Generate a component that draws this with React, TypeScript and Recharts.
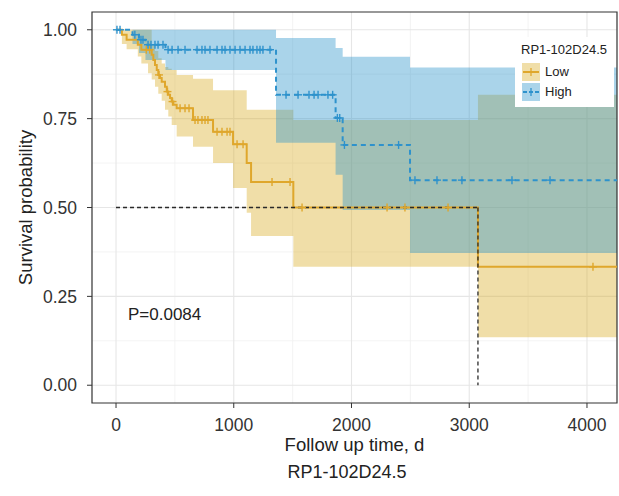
import React from "react";
import {
  ComposedChart,
  XAxis,
  YAxis,
  CartesianGrid,
  Line,
  Area,
  Scatter,
  ReferenceLine,
  ReferenceArea,
} from "recharts";

// ---------- data ----------
const xTicks = [0, 1000, 2000, 3000, 4000];
const xMinor = [500, 1500, 2500, 3500];
const yTicks = [0, 0.25, 0.5, 0.75, 1];
const yMinor = [0.125, 0.375, 0.625, 0.875];

// Kaplan-Meier steps: [time, survival]
const lowSteps: [number, number][] = [
  [0, 1], [50, 0.986], [90, 0.972], [185, 0.958], [215, 0.944], [303, 0.93],
  [317, 0.915], [331, 0.901], [346, 0.887], [359, 0.873], [374, 0.864],
  [388, 0.854], [416, 0.84], [431, 0.826], [444, 0.817], [459, 0.808],
  [473, 0.798], [487, 0.789], [515, 0.779], [654, 0.746], [824, 0.713],
  [994, 0.678], [1110, 0.625], [1147, 0.572], [1506, 0.5], [3074, 0.333],
  [4400, 0.333],
];
const highSteps: [number, number][] = [
  [0, 1], [140, 0.986], [195, 0.972], [250, 0.958], [420, 0.944],
  [1359, 0.817], [1865, 0.752], [1925, 0.676], [2497, 0.577], [4400, 0.577],
];

// confidence bands: [time, lower, upper]
const lowBand: [number, number, number][] = [
  [0, 1, 1], [50, 0.96, 1], [90, 0.945, 1], [185, 0.925, 1], [215, 0.905, 1],
  [272, 0.878, 1], [303, 0.86, 0.96], [331, 0.84, 0.94], [359, 0.82, 0.92],
  [388, 0.8, 0.905], [416, 0.775, 0.895], [444, 0.756, 0.89],
  [473, 0.732, 0.887], [515, 0.7, 0.873], [654, 0.671, 0.862],
  [824, 0.625, 0.83], [994, 0.555, 0.83], [1110, 0.485, 0.775],
  [1147, 0.42, 0.775], [1506, 0.333, 0.746], [3074, 0.135, 0.817],
  [4400, 0.135, 0.817],
];
const highBand: [number, number, number][] = [
  [0, 1, 1], [140, 0.96, 1], [195, 0.935, 1], [250, 0.915, 1],
  [420, 0.887, 1], [1359, 0.682, 0.977], [1865, 0.592, 0.949],
  [1925, 0.493, 0.924], [2497, 0.372, 0.894], [4400, 0.372, 0.894],
];

// censored observations: [time, survival]
const lowCensor: [number, number][] = [
  [257, 0.944], [286, 0.944], [365, 0.873], [437, 0.826], [480, 0.798],
  [544, 0.779], [586, 0.779], [620, 0.779], [671, 0.746], [696, 0.746],
  [730, 0.746], [756, 0.746], [781, 0.746], [858, 0.713], [900, 0.713],
  [943, 0.713], [968, 0.713], [1028, 0.678], [1079, 0.678], [1325, 0.572],
  [1478, 0.572], [1580, 0.5], [2302, 0.5], [2454, 0.5], [2820, 0.5],
  [4051, 0.333],
];
const highCensor: [number, number][] = [
  [8, 1], [34, 1], [160, 0.986], [212, 0.972], [229, 0.972], [272, 0.958],
  [297, 0.958], [331, 0.958], [357, 0.958], [399, 0.958],
  [442, 0.944], [476, 0.944], [527, 0.944], [586, 0.944], [688, 0.944],
  [730, 0.944], [756, 0.944], [798, 0.944], [858, 0.944], [900, 0.944],
  [926, 0.944], [968, 0.944], [1011, 0.944], [1053, 0.944], [1096, 0.944],
  [1138, 0.944], [1163, 0.944], [1197, 0.944], [1223, 0.944], [1248, 0.944],
  [1308, 0.944],
  [1444, 0.817], [1546, 0.817], [1639, 0.817], [1682, 0.817], [1716, 0.817],
  [1800, 0.817], [1840, 0.817],
  [1880, 0.752], [1900, 0.752],
  [1940, 0.676], [2400, 0.676],
  [2539, 0.577], [2726, 0.577], [2938, 0.577], [3363, 0.577], [3686, 0.577],
];

const medianLow = 3074;
const medianLevel = 0.5;
const pValueText = "P=0.0084";
const groupTitle = "RP1-102D24.5";
const groupNames = ["Low", "High"];

// ---------- styles ----------
const LOW_LINE = "#DFA72C";
const HIGH_LINE = "#2E92CC";
const LOW_FILL = "#D9AC25";
const HIGH_FILL = "#2A93CA";
const FILL_OP = 0.4;
const FONT = "'Liberation Sans', Arial, Helvetica, sans-serif";

const toSteps = (a: [number, number][]) => a.map(([t, s]) => ({ t, s }));
const toBand = (a: [number, number, number][]) =>
  a.map(([t, lo, hi]) => ({ t, ci: [lo, hi] }));

const plusShape = (color: string) => (props: any) => {
  const { cx, cy } = props;
  if (cx == null || cy == null) return <g />;
  return (
    <g>
      <line x1={cx - 4} x2={cx + 4} y1={cy} y2={cy} stroke={color} strokeWidth={1.4} />
      <line x1={cx} x2={cx} y1={cy - 4} y2={cy + 4} stroke={color} strokeWidth={1.4} />
    </g>
  );
};

const XTitle = (props: any) => {
  const vb = props.viewBox || {};
  return (
    <text
      x={vb.x + vb.width / 2}
      y={vb.y + 48}
      textAnchor="middle"
      fontSize={18.5}
      fill="#222"
      fontFamily={FONT}
    >
      Follow up time, d
    </text>
  );
};

const YTitle = (props: any) => {
  const vb = props.viewBox || {};
  const cx = vb.x + 25;
  const cy = vb.y + vb.height / 2;
  return (
    <text
      x={cx}
      y={cy}
      transform={`rotate(-90 ${cx} ${cy})`}
      textAnchor="middle"
      dominantBaseline="central"
      fontSize={18.5}
      fill="#222"
      fontFamily={FONT}
    >
      Survival probability
    </text>
  );
};

const LegendKey = ({ line, fill, dashed }: { line: string; fill: string; dashed?: boolean }) => (
  <svg width={18} height={18} style={{ display: "block" }}>
    <rect x={0} y={0} width={18} height={18} fill={fill} fillOpacity={FILL_OP} />
    <line
      x1={1}
      x2={17}
      y1={9}
      y2={9}
      stroke={line}
      strokeWidth={2}
      strokeDasharray={dashed ? "4 2" : undefined}
    />
    <line x1={9} x2={9} y1={5} y2={13} stroke={line} strokeWidth={1.3} />
  </svg>
);

export default function App() {
  return (
    <div style={{ position: "absolute", left: 0, top: 0, width: 619, height: 496, background: "#fff", fontFamily: FONT }}>
      <ComposedChart width={619} height={496} margin={{ top: 12, right: 2, bottom: 0, left: 0 }}>
        <CartesianGrid
          horizontalValues={yMinor}
          verticalValues={xMinor}
          stroke="#F0F0F0"
          strokeWidth={0.8}
        />
        <CartesianGrid
          horizontalValues={yTicks}
          verticalValues={xTicks}
          stroke="#E6E6E6"
          strokeWidth={1.1}
        />
        <XAxis
          type="number"
          dataKey="t"
          domain={[-204, 4255]}
          ticks={xTicks}
          allowDataOverflow
          height={93}
          axisLine={false}
          tickLine={{ stroke: "#333" }}
          tickSize={5}
          tickMargin={11}
          tick={{ fontSize: 17.5, fill: "#333", fontFamily: FONT }}
          label={<XTitle />}
        />
        <YAxis
          type="number"
          domain={[-0.05, 1.05]}
          ticks={yTicks}
          allowDataOverflow
          width={92}
          axisLine={false}
          tickLine={{ stroke: "#333" }}
          tickSize={5}
          tickMargin={10}
          tickFormatter={(v: number) => v.toFixed(2)}
          tick={{ fontSize: 17.5, fill: "#333", fontFamily: FONT }}
          label={<YTitle />}
        />
        <Area
          data={toBand(lowBand)}
          dataKey="ci"
          type="stepAfter"
          stroke="none"
          fill={LOW_FILL}
          fillOpacity={FILL_OP}
          isAnimationActive={false}
          dot={false}
          activeDot={false}
        />
        <Area
          data={toBand(highBand)}
          dataKey="ci"
          type="stepAfter"
          stroke="none"
          fill={HIGH_FILL}
          fillOpacity={FILL_OP}
          isAnimationActive={false}
          dot={false}
          activeDot={false}
        />
        <Line
          data={toSteps(lowSteps)}
          dataKey="s"
          type="stepAfter"
          stroke={LOW_LINE}
          strokeWidth={2}
          dot={false}
          activeDot={false}
          isAnimationActive={false}
        />
        <Line
          data={toSteps(highSteps)}
          dataKey="s"
          type="stepAfter"
          stroke={HIGH_LINE}
          strokeWidth={2}
          strokeDasharray="5 4"
          dot={false}
          activeDot={false}
          isAnimationActive={false}
        />
        <Scatter
          data={toSteps(lowCensor)}
          dataKey="s"
          shape={plusShape(LOW_LINE)}
          isAnimationActive={false}
        />
        <Scatter
          data={toSteps(highCensor)}
          dataKey="s"
          shape={plusShape(HIGH_LINE)}
          isAnimationActive={false}
        />
        <ReferenceLine
          segment={[{ x: 0, y: medianLevel }, { x: medianLow, y: medianLevel }]}
          stroke="#2a2a2a"
          strokeWidth={1.3}
          strokeDasharray="4 3"
        />
        <ReferenceLine
          segment={[{ x: medianLow, y: medianLevel }, { x: medianLow, y: 0 }]}
          stroke="#2a2a2a"
          strokeWidth={1.3}
          strokeDasharray="4 3"
        />
        <ReferenceArea
          x1={-204}
          x2={4255}
          y1={-0.05}
          y2={1.05}
          fill="none"
          fillOpacity={0}
          stroke="#333"
          strokeWidth={1.2}
        />
      </ComposedChart>

      {/* p-value annotation */}
      <div
        style={{
          position: "absolute",
          left: 128,
          top: 304,
          fontSize: 17,
          color: "#222",
          lineHeight: "22px",
          whiteSpace: "nowrap",
        }}
      >
        {pValueText}
      </div>

      {/* legend */}
      <div
        style={{
          position: "absolute",
          left: 515,
          top: 37,
          width: 99,
          height: 70,
          background: "#fff",
          boxSizing: "border-box",
          padding: "5px 0 0 7px",
          fontSize: 13,
          color: "#222",
        }}
      >
        <div style={{ lineHeight: "16px", whiteSpace: "nowrap", marginLeft: -1 }}>{groupTitle}</div>
        <div style={{ display: "flex", alignItems: "center", marginTop: 4, height: 19 }}>
          <LegendKey line={LOW_LINE} fill={LOW_FILL} />
          <span style={{ marginLeft: 5 }}>{groupNames[0]}</span>
        </div>
        <div style={{ display: "flex", alignItems: "center", marginTop: 1, height: 19 }}>
          <LegendKey line={HIGH_LINE} fill={HIGH_FILL} dashed />
          <span style={{ marginLeft: 5 }}>{groupNames[1]}</span>
        </div>
      </div>

      {/* caption */}
      <div
        style={{
          position: "absolute",
          left: 0,
          width: 694,
          top: 460,
          textAlign: "center",
          fontSize: 18,
          color: "#222",
          lineHeight: "24px",
        }}
      >
        {groupTitle}
      </div>
    </div>
  );
}
